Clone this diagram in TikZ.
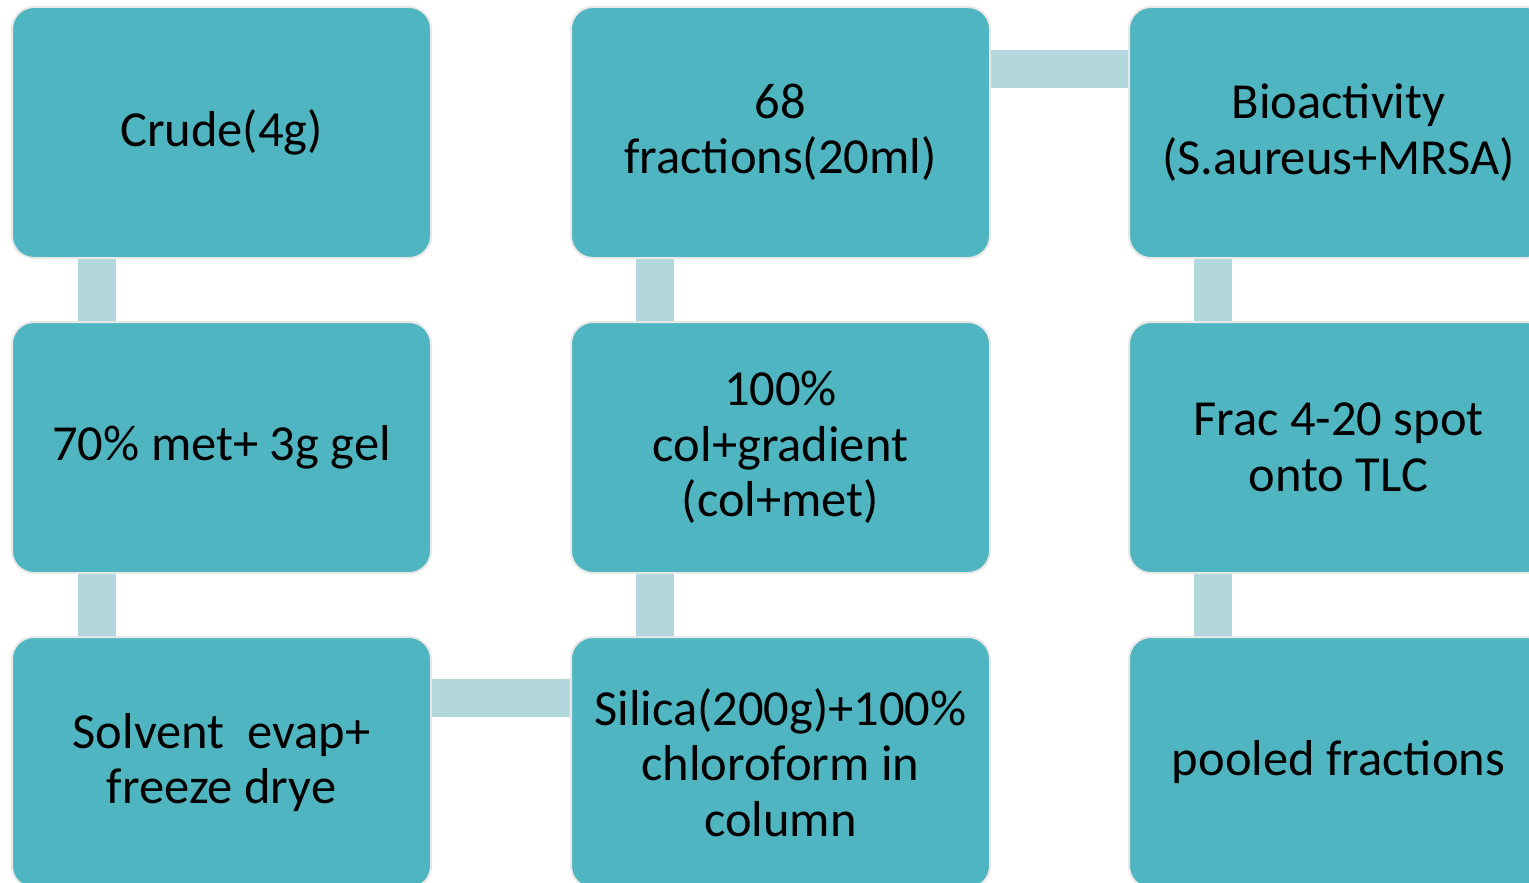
\documentclass[tikz,border=0pt]{standalone}
\usepackage{fontspec}
\setmainfont{Carlito}
\usetikzlibrary{positioning, backgrounds}

\definecolor{boxteal}{RGB}{79,182,193}
\definecolor{linkteal}{RGB}{178,215,221}
\definecolor{rimgray}{RGB}{232,232,232}

\begin{document}
\begin{tikzpicture}[
    x=1pt, y=-1pt,
    box/.style = {rectangle, rounded corners=22pt, fill=boxteal, draw=rimgray,
                  line width=2pt, minimum width=419pt, minimum height=251pt,
                  inner sep=0pt, outer sep=0pt, align=center,
                  font=\fontsize{50.5}{55.5}\selectfont},
    link/.style = {linkteal, line width=38pt},
]
\useasboundingbox (0,0) rectangle (1529,883);
\clip (0,0) rectangle (1529,883);

%% ---- Column 1 ----
\node[box] (crude) at (221.5, 132.5) {Crude(4g)};
\node[box] (mix)   at (221.5, 447.5) {70\% met+ 3g gel};
\node[box] (evap)  at (221.5, 762.5) {Solvent\ \ evap+\\freeze drye};

%% ---- Column 2 ----
\node[box] (frac)   at (780.5, 132.5) {68\\fractions(20ml)};
\node[box] (grad)   at (780.5, 447.5) {100\%\\col+gradient\\(col+met)};
\node[box] (silica) at (780.5, 762.5) {Silica(200g)+100\%\\chloroform in\\column};

%% ---- Column 3 ----
\node[box] (bio)  at (1338.5, 132.5) {Bioactivity\\(S.aureus+MRSA)};
\node[box] (tlc)  at (1338.5, 447.5) {Frac 4-20 spot\\onto TLC};
\node[box] (pool) at (1338.5, 762.5) {pooled fractions};

%% ---- Connectors (behind boxes) ----
\begin{scope}[on background layer]
\draw[link] ([xshift=85pt]crude.south west) -- ([xshift=85pt]mix.north west);
\draw[link] ([xshift=85pt]mix.south west) -- ([xshift=85pt]evap.north west);
\draw[link] ([yshift=-61pt]evap.north east) -- ([yshift=-61pt]silica.north west);
\draw[link] ([xshift=84pt]silica.north west) -- ([xshift=84pt]grad.south west);
\draw[link] ([xshift=84pt]grad.north west) -- ([xshift=84pt]frac.south west);
\draw[link] ([yshift=-62pt]frac.north east) -- ([yshift=-62pt]bio.north west);
\draw[link] ([xshift=84pt]bio.south west) -- ([xshift=84pt]tlc.north west);
\draw[link] ([xshift=84pt]tlc.south west) -- ([xshift=84pt]pool.north west);
\end{scope}

\end{tikzpicture}
\end{document}
